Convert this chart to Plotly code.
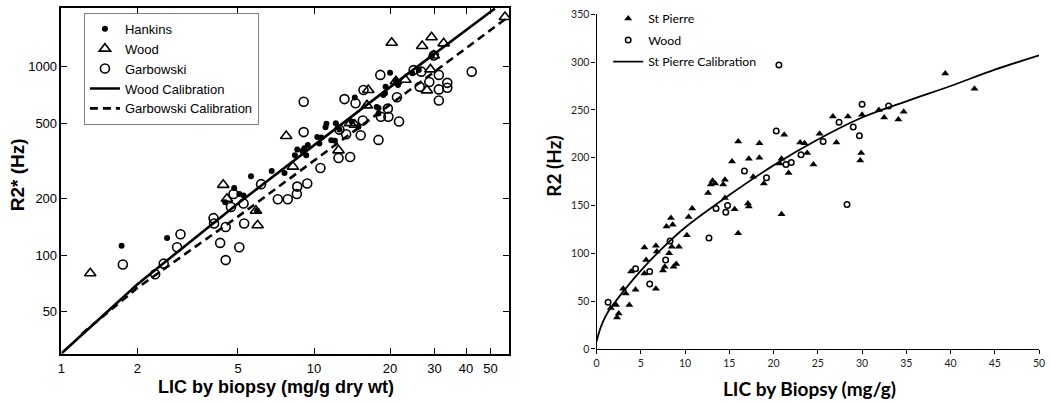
import plotly.graph_objects as go

# ---------------- Left panel data (log-log) ----------------
hankins_x = [1.73, 2.62, 4.45, 4.83, 5.06, 5.26, 5.63, 5.95, 6.8, 7.64,
             8.4, 8.58, 8.99, 9.16, 9.45, 9.31, 10.3, 10.5, 10.7, 11.1,
             11.2, 11.7, 12.2, 12.1, 12.6, 14.1, 14.5, 15.0, 17.7, 18.0,
             18.0, 18.8, 19.2, 19.1, 20.0, 21.0, 21.5, 24.5, 26.0, 29.3]
hankins_y = [112, 123, 191, 227, 211, 207, 262, 172, 280, 273,
             339, 364, 357, 369, 384, 339, 424, 392, 421, 477,
             498, 407, 502, 405, 464, 512, 688, 480, 611, 565,
             605, 709, 783, 724, 930, 847, 800, 925, 961, 1148]

wood_left_x = [57.0, 29.2, 26.8, 32.6, 20.3, 29.8, 28.9, 28.0, 23.0, 21.1,
               16.4, 16.2, 14.5, 13.9, 12.5, 7.76, 8.25, 4.37, 4.52, 5.89,
               5.98, 1.30]
wood_left_y = [1841, 1436, 1291, 1333, 1343, 1148, 969, 750, 854, 838,
               753, 624, 492, 502, 360, 429, 295, 236, 199, 172,
               144, 80]

garb_x = [1.75, 2.35, 2.54, 2.87, 2.96, 4.0, 4.02, 4.47, 4.25, 4.47,
          4.69, 4.80, 5.06, 5.26, 5.29, 6.17, 7.19, 7.87, 8.55, 8.58,
          9.40, 9.10, 9.10, 10.6, 12.5, 13.9, 12.6, 13.2, 14.6, 13.4,
          15.3, 15.6, 15.7, 18.0, 18.3, 18.4, 19.7, 19.6, 21.7, 21.3,
          26.2, 26.6, 28.6, 29.8, 31.2, 31.2, 31.2, 33.7, 33.7, 42.1,
          24.8]
garb_y = [89, 79, 90, 110, 129, 157, 147, 141, 116, 94,
          180, 211, 110, 188, 147, 238, 198, 198, 211, 231,
          240, 653, 450, 290, 328, 332, 464, 674, 641, 438,
          433, 519, 753, 409, 906, 543, 543, 600, 512, 689,
          783, 943, 831, 1148, 906, 759, 662, 822, 774, 943,
          961]

wood_cal_x = [1, 2, 5, 10, 20, 52]
wood_cal_y = [30, 70, 188, 385, 780, 2040]
garb_cal_x = [1.2, 2, 5, 10, 20, 60]
garb_cal_y = [38, 67, 160, 317, 630, 1880]

x_ticks_left = [1, 2, 5, 10, 20, 30, 40, 50]
y_ticks_left = [50, 100, 200, 500, 1000]

# ---------------- Right panel data (linear) ----------------
stp_x = [39.4, 42.7, 31.9, 34.7, 32.5, 34.1, 30.0, 28.4, 26.7, 27.1,
         25.2, 24.5, 23.5, 23.0, 23.8, 29.9, 29.8, 21.2, 20.9, 20.7,
         21.7, 20.9, 18.4, 18.4, 17.2, 16.0, 15.3, 17.7, 18.9, 17.1,
         17.2, 15.6, 16.0, 14.5, 14.3, 14.5, 12.6, 12.9, 13.1, 13.4,
         10.8, 10.4, 10.2, 8.4, 8.6, 7.9, 8.2, 8.5, 9.3, 9.0,
         8.7, 7.7, 7.5, 5.4, 6.7, 6.8, 5.6, 5.4, 6.7, 3.9,
         4.4, 3.0, 3.3, 3.7, 2.2, 1.6, 2.5, 2.3]
stp_y = [288, 272, 250, 248, 242, 240, 245, 243, 243, 216,
         225, 193, 215, 216, 205, 205, 197, 224, 199, 194,
         184, 141, 215, 200, 199, 217, 196, 180, 173, 152,
         149, 146, 121, 177, 172, 158, 163, 172, 176, 173,
         147, 138, 119, 137, 130, 128, 100, 107, 107, 89,
         86, 86, 82, 106, 108, 102, 93, 79, 63, 81,
         62, 63, 58, 46, 46, 43, 37, 33]

wood_right_x = [20.6, 30.0, 33.0, 27.4, 29.0, 29.7, 20.3, 25.6, 23.1, 22.0,
                21.4, 28.3, 16.7, 19.2, 13.5, 14.8, 14.6, 12.7, 8.3, 7.8,
                6.0, 6.0, 4.4, 1.3]
wood_right_y = [297, 256, 254, 237, 232, 223, 228, 217, 203, 195,
                193, 151, 186, 179, 147, 150, 143, 116, 113, 93,
                81, 68, 84, 49]

stp_cal_x = [0, 0.3, 0.7, 1.3, 2, 3, 5, 7.5, 10, 15, 20, 25, 30, 35, 40, 45, 50]
stp_cal_y = [8, 18, 28, 39, 48, 60, 82, 106, 127, 161, 192, 219, 242, 259, 275, 292, 307]

x_ticks_right = [0, 5, 10, 15, 20, 25, 30, 35, 40, 45, 50]
y_ticks_right = [0, 50, 100, 150, 200, 250, 300, 350]

W, H = 1050, 404
ARIAL = "Liberation Sans, Arial, Helvetica, sans-serif"
LATO = "Lato, Open Sans, sans-serif"

fig = go.Figure()

# left traces
fig.add_trace(go.Scatter(x=hankins_x, y=hankins_y, mode="markers", name="Hankins",
                         marker=dict(symbol="circle", size=6, color="black"),
                         xaxis="x", yaxis="y", legend="legend"))
fig.add_trace(go.Scatter(x=wood_left_x, y=wood_left_y, mode="markers", name="Wood",
                         marker=dict(symbol="triangle-up-open", size=10, color="black",
                                     line=dict(width=1.6, color="black")),
                         xaxis="x", yaxis="y", legend="legend"))
fig.add_trace(go.Scatter(x=garb_x, y=garb_y, mode="markers", name="Garbowski",
                         marker=dict(symbol="circle-open", size=9, color="black",
                                     line=dict(width=1.6, color="black")),
                         xaxis="x", yaxis="y", legend="legend"))
fig.add_trace(go.Scatter(x=wood_cal_x, y=wood_cal_y, mode="lines", name="Wood Calibration",
                         line=dict(color="black", width=2.6),
                         xaxis="x", yaxis="y", legend="legend"))
fig.add_trace(go.Scatter(x=garb_cal_x, y=garb_cal_y, mode="lines", name="Garbowski Calibration",
                         line=dict(color="black", width=2.6, dash="8px,5px"),
                         xaxis="x", yaxis="y", legend="legend"))

# right traces
fig.add_trace(go.Scatter(x=stp_x, y=stp_y, mode="markers", name="St Pierre",
                         marker=dict(symbol="triangle-up", size=7, color="black"),
                         xaxis="x2", yaxis="y2", legend="legend2", legendgroup="a"))
fig.add_trace(go.Scatter(x=wood_right_x, y=wood_right_y, mode="markers", name="Wood",
                         marker=dict(symbol="circle-open", size=5.5, color="black",
                                     line=dict(width=1.5, color="black")),
                         xaxis="x2", yaxis="y2", legend="legend2", legendgroup="b"))
fig.add_trace(go.Scatter(x=stp_cal_x, y=stp_cal_y, mode="lines", name="St Pierre Calibration",
                         line=dict(color="black", width=1.8, shape="spline"),
                         xaxis="x2", yaxis="y2", legend="legend2", legendgroup="c"))

left_axis_common = dict(showline=True, linecolor="black", linewidth=1.5, mirror="ticks",
                        ticks="inside", ticklen=6, tickwidth=1.2, tickcolor="black",
                        showgrid=False, zeroline=False,
                        tickfont=dict(family=ARIAL, size=13, color="black"))
right_axis_common = dict(showline=True, linecolor="black", linewidth=1.3,
                         ticks="outside", ticklen=4, tickwidth=1, tickcolor="black",
                         showgrid=False, zeroline=False,
                         tickfont=dict(family=LATO, size=10.5, color="#222"))

fig.update_layout(
    width=W, height=H,
    margin=dict(l=0, r=0, t=0, b=0),
    paper_bgcolor="white", plot_bgcolor="white",
    showlegend=True,
    xaxis=dict(type="log", range=[0, 1.7725], domain=[58 / W, 510 / W], anchor="y",
               tickvals=x_ticks_left, ticktext=[str(v) for v in x_ticks_left],
               ticklabelstandoff=2, **left_axis_common),
    yaxis=dict(type="log", range=[1.476, 3.313], domain=[45.7 / H, 402 / H], anchor="x",
               tickvals=y_ticks_left, ticktext=[str(v) for v in y_ticks_left],
               **left_axis_common),
    xaxis2=dict(range=[0, 50], domain=[598.3 / W, 1045 / W], anchor="y2",
                tickvals=x_ticks_right, ticklabeloverflow="allow", **right_axis_common),
    yaxis2=dict(range=[0, 350], domain=[50.5 / H, 395.5 / H], anchor="x2",
                tickvals=y_ticks_right, **right_axis_common),
    legend=dict(x=80.7 / W, y=(H - 7) / H, xanchor="left", yanchor="top",
                bgcolor="white", bordercolor="#808080", borderwidth=1,
                font=dict(family=ARIAL, size=13, color="black"),
                itemwidth=30, tracegroupgap=0),
    legend2=dict(x=610 / W, y=(H + 2) / H, xanchor="left", yanchor="top",
                 bgcolor="rgba(0,0,0,0)", borderwidth=0,
                 font=dict(family=LATO, size=12.3, color="black"),
                 itemwidth=30, traceorder="grouped", tracegroupgap=2.5),
    annotations=[
        dict(text="<b>R2* (Hz)</b>", x=13.5 / W, y=(H - 174) / H, xref="paper", yref="paper",
             xanchor="center", yanchor="middle",
             textangle=-90, showarrow=False, font=dict(family=ARIAL, size=19, color="black")),
        dict(text="<b>LIC by biopsy (mg/g dry wt)</b>", x=275 / W, y=(H - 393) / H,
             xref="paper", yref="paper", xanchor="center", yanchor="middle", showarrow=False,
             font=dict(family=ARIAL, size=18, color="black")),
        dict(text="<b>R2 (Hz)</b>", x=554 / W, y=(H - 165) / H, xref="paper", yref="paper",
             xanchor="center", yanchor="middle",
             textangle=-90, showarrow=False, font=dict(family=LATO, size=19, color="black")),
        dict(text="<b>LIC by Biopsy (mg/g)</b>", x=813 / W, y=(H - 394) / H,
             xref="paper", yref="paper", xanchor="center", yanchor="middle", showarrow=False,
             font=dict(family=LATO, size=19, color="black")),
    ],
)

fig.write_html("out.html",
               config={"displayModeBar": False},
               post_script="document.body.style.margin='0px';document.body.style.padding='0px';"
                           "document.body.style.overflow='hidden';")
